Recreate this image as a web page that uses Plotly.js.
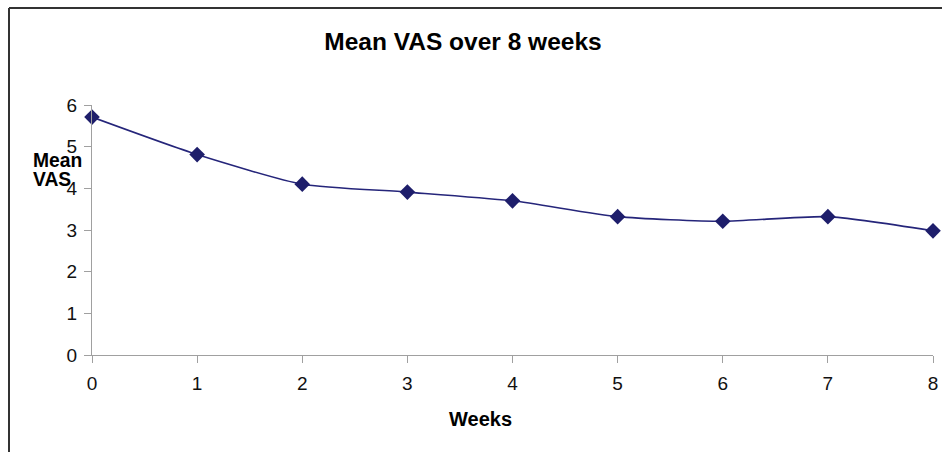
<!DOCTYPE html>
<html>
<head>
<meta charset="utf-8">
<script src="https://cdn.plot.ly/plotly-3.0.1.min.js"></script>
<style>html,body{margin:0;padding:0;background:#fff;}#chart{width:942px;height:452px;}</style>
</head>
<body>
<div id="chart"></div>
<script>
const weeks = [0, 1, 2, 3, 4, 5, 6, 7, 8];
const meanVAS = [5.71, 4.81, 4.10, 3.91, 3.70, 3.32, 3.21, 3.32, 2.98];
const xTicks = [0, 1, 2, 3, 4, 5, 6, 7, 8];
const yTicks = [0, 1, 2, 3, 4, 5, 6];
const chartTitle = 'Mean VAS over 8 weeks';
const yLabelLines = ['Mean', 'VAS'];
const xLabel = 'Weeks';

const L = 92, R = 9, T = 105, B = 97;
const W = 942 - L - R, H = 452 - T - B;
const px = v => (v - L) / W;
const py = v => 1 - (v - T) / H;
const FONT = 'Liberation Sans, Arial, sans-serif';

const trace = {
  x: weeks, y: meanVAS, type: 'scatter', mode: 'lines+markers',
  line: {color: '#25257a', width: 1.6, shape: 'spline', smoothing: 0.6},
  marker: {symbol: 'diamond', size: 12, color: '#1e1e6b'},
  cliponaxis: false, hoverinfo: 'none'
};

const axisCommon = {
  showgrid: false, zeroline: false, showline: true, linecolor: '#a0a0a0', linewidth: 1,
  ticks: 'outside', ticklen: 7, tickcolor: '#a0a0a0', tickwidth: 1,
  tickfont: {family: FONT, size: 19, color: '#111'},
  fixedrange: true
};

const layout = {
  width: 942, height: 452,
  margin: {l: L, r: R, t: T, b: B, pad: 0},
  paper_bgcolor: '#fff', plot_bgcolor: '#fff',
  showlegend: false,
  title: {text: '<b>' + chartTitle + '</b>', x: 463/942, xref: 'container', xanchor: 'center',
          y: 1 - 41/452, yref: 'container', yanchor: 'middle',
          font: {family: FONT, size: 24.5, color: '#000'}},
  xaxis: Object.assign({}, axisCommon, {range: [0, 8], tickvals: xTicks, ticktext: xTicks.map(String), ticklabelstandoff: 4}),
  yaxis: Object.assign({}, axisCommon, {range: [0, 6], tickvals: yTicks, ticktext: yTicks.map(String), ticklabelstandoff: 3}),
  annotations: [
    {text: '<b>' + yLabelLines[0] + '</b>', xref: 'paper', yref: 'paper', x: px(31), y: py(160),
     xanchor: 'left', yanchor: 'middle', align: 'left', showarrow: false,
     font: {family: FONT, size: 19.3, color: '#000'}},
    {text: '<b>' + yLabelLines[1] + '</b>', xref: 'paper', yref: 'paper', x: px(31), y: py(179),
     xanchor: 'left', yanchor: 'middle', align: 'left', showarrow: false,
     font: {family: FONT, size: 19.3, color: '#000'}},
    {text: '<b>' + xLabel + '</b>', xref: 'paper', yref: 'paper', x: px(480), y: py(419),
     xanchor: 'center', yanchor: 'middle', showarrow: false,
     font: {family: FONT, size: 20, color: '#000'}}
  ],
  shapes: [
    {type: 'line', xref: 'paper', yref: 'paper', x0: px(9), x1: px(9), y0: py(8), y1: py(460),
     line: {color: '#333', width: 2}},
    {type: 'line', xref: 'paper', yref: 'paper', x0: px(9), x1: px(960), y0: py(8), y1: py(8),
     line: {color: '#333', width: 2}}
  ]
};

Plotly.newPlot('chart', [trace], layout, {staticPlot: true, displayModeBar: false});
</script>
</body>
</html>
